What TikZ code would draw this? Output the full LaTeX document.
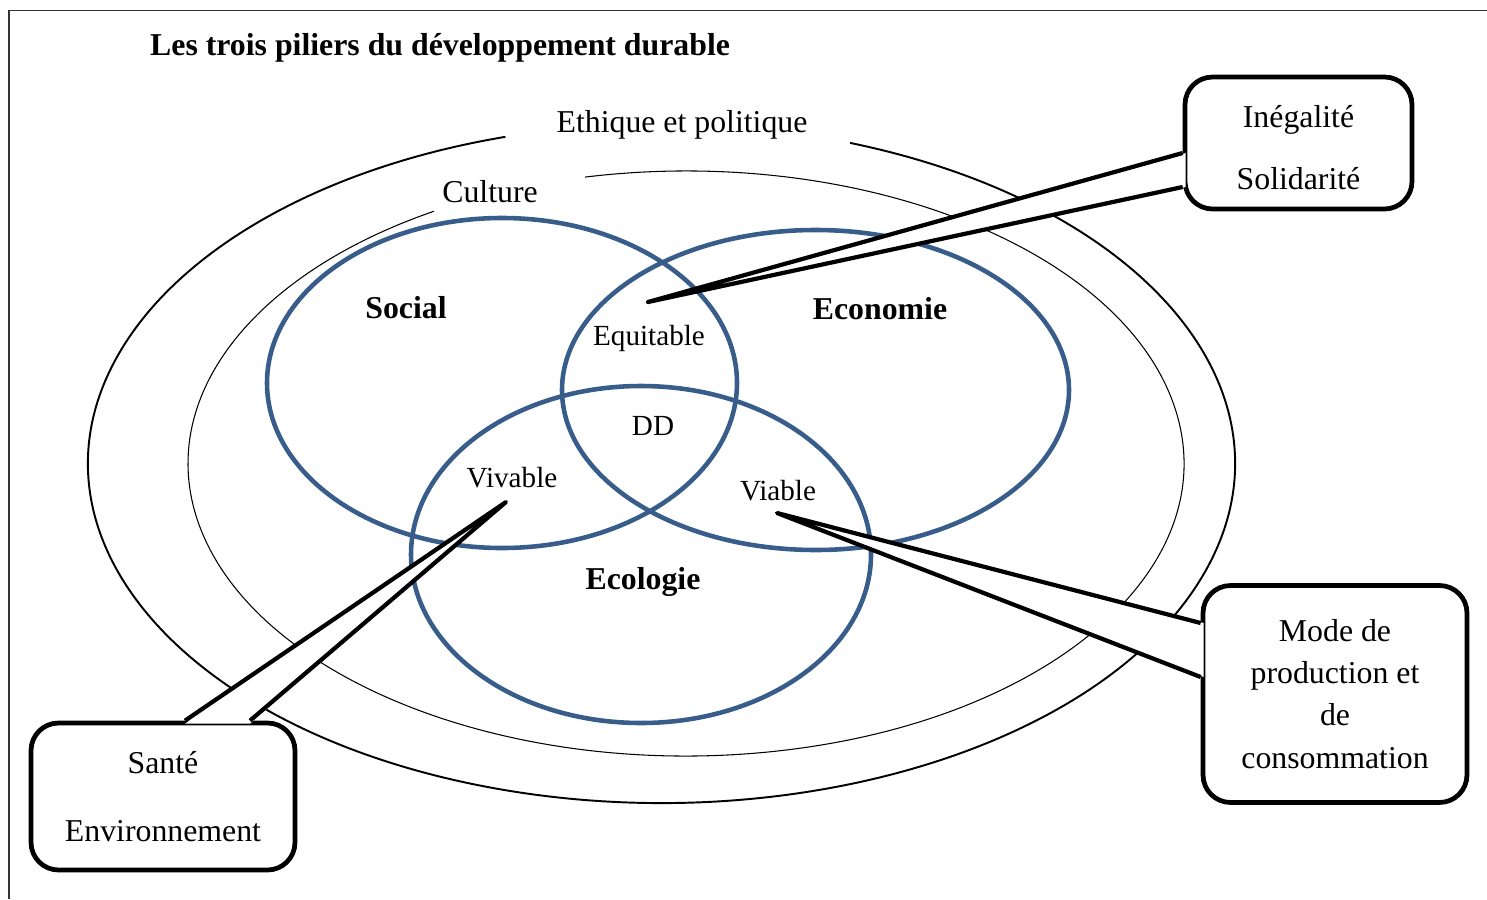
\documentclass[tikz,border=0pt]{standalone}
\usepackage{fontspec}
\setmainfont{Liberation Serif}
\usepackage{tikz}
\definecolor{ddblue}{RGB}{56,93,138}
\tikzstyle{ring} = [line width=1.1pt]
\tikzstyle{thinring} = [line width=0.6pt]
\tikzstyle{pillar} = [line width=2.6pt, color=ddblue]
\tikzstyle{bigtext} = [font=\fontsize{18.1}{24}\selectfont]
\tikzstyle{boldtext} = [font=\fontsize{18.1}{24}\selectfont\bfseries]
\tikzstyle{smalltext} = [font=\fontsize{16.6}{20}\selectfont]
\tikzstyle{callbox} = [draw, line width=2.7pt, rounded corners=0.55cm, fill=white, inner sep=0pt, align=center, bigtext]
\tikzstyle{callline} = [line width=2.4pt, line join=round]

\begin{document}
\begin{tikzpicture}[x=0.02cm, y=-0.02cm]
\useasboundingbox (0,0) rectangle (1487,899);
% frame and title
\draw[line width=0.9pt, black!80] (9,899) -- (9,10.5) -- (1487,10.5);
\node[boldtext, anchor=base west] (titre) at (144,55) {Les trois piliers du développement durable};

% outer rings
\draw[ring] ([shift={(289.2:573.5 and 339.5)}]661.5,463.5) arc[start angle=289.2, end angle=614.2, x radius=573.5, y radius=339.5];
\node[bigtext, anchor=base] (ethique) at (682,132) {Ethique et politique};
\draw[thinring] ([shift={(258.3:498 and 292.5)}]686,463.5) arc[start angle=258.3, end angle=599.6, x radius=498, y radius=292.5];
\node[bigtext, anchor=base] (culture) at (490,202) {Culture};

% three pillars
\draw[pillar] (502,383) ellipse [x radius=235, y radius=165];
\draw[pillar] (815.5,390) ellipse [x radius=253.5, y radius=160];
\draw[pillar] (641,554.5) ellipse [x radius=230, y radius=168.5];
\node[boldtext, anchor=base] (social) at (406,318) {Social};
\node[boldtext, anchor=base] (economie) at (880,319) {Economie};
\node[boldtext, anchor=base] (ecologie) at (643,589) {Ecologie};
\node[smalltext, anchor=base] (equitable) at (649,345) {Equitable};
\node[smalltext, anchor=base] (dd) at (653,435) {DD};
\node[smalltext, anchor=base] (vivable) at (512,487) {Vivable};
\node[smalltext, anchor=base] (viable) at (778,500) {Viable};

% callouts
\coordinate (equitip) at (648,302);
\coordinate (vivtip) at (506,502);
\coordinate (viatip) at (777,513);

\node[callbox, minimum width=4.54cm, minimum height=2.64cm, text height=1.88cm] (inegal) at (1298.5,143) {Inégalité\\[11.7pt]Solidarité};
\fill[white] ([shift={(3,10)}]inegal.west) -- (equitip) -- ([shift={(3,44)}]inegal.west) -- cycle;
\draw[callline] ([shift={(0,10)}]inegal.west) -- (equitip) -- ([shift={(0,44)}]inegal.west);

\node[callbox, minimum width=5.28cm, minimum height=2.94cm] (sante) at (163,796.5) {Santé\\[15.1pt]Environnement};
\fill[white] ([shift={(22,3)}]sante.north) -- (vivtip) -- ([shift={(87,3)}]sante.north) -- cycle;
\draw[callline] ([shift={(22,0)}]sante.north) -- (vivtip) -- ([shift={(87,0)}]sante.north);

\node[callbox, minimum width=5.28cm, minimum height=4.34cm] (mode) at (1335,694) {Mode de\\production et\\de\\consommation};
\fill[white] ([shift={(3,-71)}]mode.west) -- (viatip) -- ([shift={(3,-17)}]mode.west) -- cycle;
\draw[callline] ([shift={(0,-71)}]mode.west) -- (viatip) -- ([shift={(0,-17)}]mode.west);
\end{tikzpicture}
\end{document}
